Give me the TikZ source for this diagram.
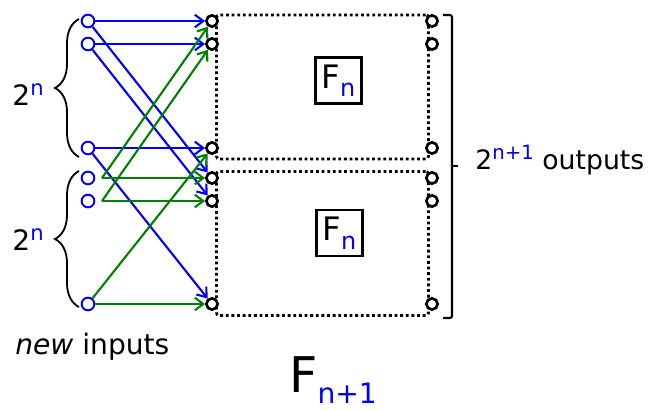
\documentclass[tikz,border=0pt]{standalone}
\usepackage{fontspec}
\setmainfont{DejaVu Sans}
\usetikzlibrary{arrows.meta, positioning, decorations.pathreplacing}

\begin{document}
\begin{tikzpicture}[x=0.025cm,y=-0.025cm,>={Straight Barb[length=6pt,width=9pt]},
        inport/.style={draw=blue,circle,line width=1.4pt,minimum size=9pt,inner sep=0pt},
        port/.style={draw,fill=white,circle,line width=1.9pt,minimum size=8pt,inner sep=0pt},
        half/.style={draw,dotted,line width=2pt,rounded corners=2pt,minimum width=5.3cm,minimum height=3.6cm},
        fbox/.style={draw,line width=2pt,minimum size=1.15cm,inner sep=0pt,font=\fontsize{23}{23}\selectfont},
        blueline/.style={->,blue,line width=1.5pt},
        greenline/.style={->,green!50!black,line width=1.5pt},
        label/.style={inner sep=0pt,font=\fontsize{20}{20}\selectfont}]
      \useasboundingbox (0,0) rectangle (649,411);
      % the two copies of F_n
      \node[half] (upper) at (322.5,87) {};
      \node[half] (lower) at (322.5,243.5) {};
      \node[fbox] (fup) at (338.5,80.5) {F\raisebox{-6pt}{\fontsize{17}{17}\selectfont\color{blue}n}};
      \node[fbox] (flow) at (339.5,233) {F\raisebox{-6pt}{\fontsize{17}{17}\selectfont\color{blue}n}};
      % inputs and ports
      \foreach \i/\y in {1/21,2/44,3/148,4/178,5/201,6/304} {
        \node[inport] (in\i) at (88,\y) {};
        \node[port] (a\i) at (212,\y) {};
        \node[port] (b\i) at (432,\y) {};
      }
      % wiring
      \foreach \i in {1,2,3} {
        \pgfmathtruncatemacro\j{\i+3}
        \draw[blueline] (in\i) -- (a\i);
        \draw[blueline] (in\i) -- (a\j);
      }
      \coordinate (g4) at (102,178);
      \coordinate (g5) at (102,201);
      \draw[greenline] (g4) -- (a4);
      \draw[greenline] (g4) -- (a1);
      \draw[greenline] (g5) -- (a5);
      \draw[greenline] (g5) -- (a2);
      \draw[greenline] (in6) -- (a6);
      \draw[greenline] (in6) -- (a3);
      % braces
      \draw[decorate,decoration={brace,amplitude=0.6cm},line width=1.3pt] (79,157) -- (79,19);
      \draw[decorate,decoration={brace,amplitude=0.6cm},line width=1.3pt] (79,307) -- (79,171);
      \draw[line width=1.5pt,rounded corners=1.5pt] (443,15) -- (452,15) -- (452,318) -- (443,318);
      \draw[line width=1.5pt] (452,166) -- (458,166);
      \node[label,anchor=east] (ntop) at (44,95) {2\raisebox{7pt}{\fontsize{15}{15}\selectfont\color{blue}n}};
      \node[label,anchor=east] (nbot) at (44,240) {2\raisebox{7pt}{\fontsize{15}{15}\selectfont\color{blue}n}};
      \node[label,anchor=west,font=\fontsize{19}{19}\selectfont] (outs) at (475,160)
        {2\raisebox{7pt}{\fontsize{14}{14}\selectfont\color{blue}n+1} outputs};
      \node[label,anchor=west] (ins) at (15,347) {\textit{new} inputs};
      \node[inner sep=0pt,anchor=west,font=\fontsize{35}{35}\selectfont] (title) at (289,380)
        {F\raisebox{-8pt}{\fontsize{20}{20}\selectfont\color{blue}n+1}};
    \end{tikzpicture}
\end{document}
